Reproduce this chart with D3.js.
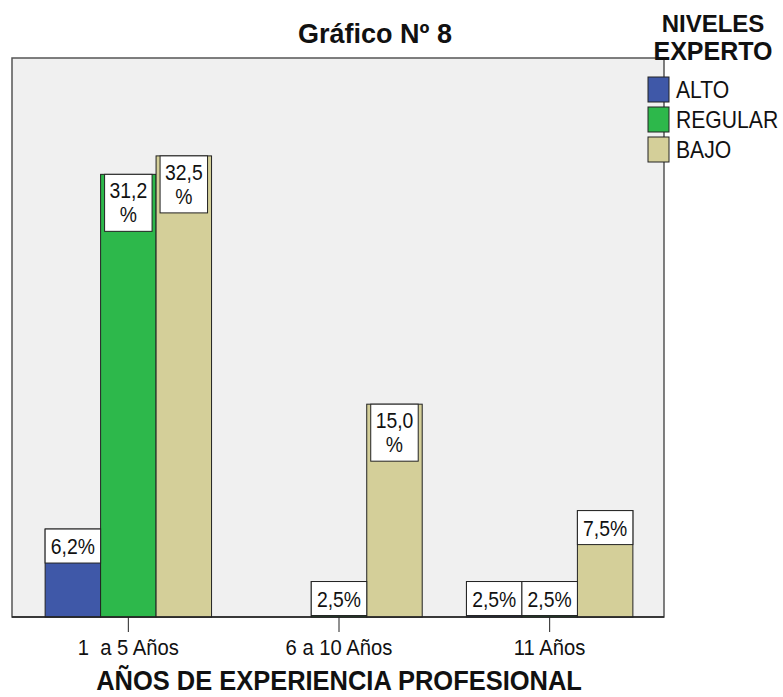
<!DOCTYPE html>
<html>
<head>
<meta charset="utf-8">
<script src="https://cdn.jsdelivr.net/npm/d3@7"></script>
<style>
	body { margin: 0; background: #fff; }
	text { font-family: "Liberation Sans", Arial, sans-serif; fill: #111; }
</style>
</head>
<body>
<svg id="chart" width="783" height="697"></svg>
<script>
// años de experiencia / niveles experto
var categories = ["1  a 5 Años", "6 a 10 Años", "11 Años"];
var levels = ["ALTO", "REGULAR", "BAJO"];
var alto    = [6.2, 0, 2.5];
var regular = [31.2, 2.5, 2.5];
var bajo    = [32.5, 15.0, 7.5];
var levelColors = ["#3f58a8", "#2db84b", "#d4cf99"];

var svg = d3.select("#chart");

var plotLeft = 12, plotRight = 664, plotTop = 58, plotBottom = 617;

var x0 = d3.scaleBand().domain(categories).range([23, 655]);
var x1 = d3.scaleBand().domain(levels)
	.range([0, x0.bandwidth() * 0.79]);
var y = d3.scaleLinear().domain([0, 39.4]).range([plotBottom, plotTop]);

// plot background
svg.append("rect")
	.attr("x", plotLeft).attr("y", plotTop)
	.attr("width", plotRight - plotLeft).attr("height", plotBottom - plotTop)
	.style("fill", "#f0f0f0")
	.style("stroke", "#555").style("stroke-width", 1.5);

var series = [alto, regular, bajo];
var rows = [];
categories.forEach(function(c, i) {
	levels.forEach(function(l, j) {
		rows.push({cat: c, level: l, value: series[j][i], color: levelColors[j]});
	});
});
rows = rows.filter(function(d) { return d.value > 0; });

function barX(d) {
	return x0(d.cat) + (x0.bandwidth() - x1.range()[1]) / 2 + x1(d.level);
}

svg.append("g").selectAll("rect")
	.data(rows)
	.enter().append("rect")
	.attr("x", barX)
	.attr("y", function(d) { return y(d.value); })
	.attr("width", x1.bandwidth())
	.attr("height", function(d) { return plotBottom - y(d.value); })
	.style("fill", function(d) { return d.color; })
	.style("stroke", "#222").style("stroke-width", 1);

// condensed text helper (no narrow font available)
function condText(parent, x, y, str, size, sx, bold) {
	return parent.append("text")
		.attr("transform", "translate(" + x + "," + y + ") scale(" + sx + ",1)")
		.attr("text-anchor", "middle")
		.style("font-size", size + "px")
		.style("font-weight", bold ? "bold" : "normal")
		.text(str);
}

// value labels in white boxes
var fmt = function(v) { return v.toFixed(1).replace(".", ","); };
var labels = svg.append("g").selectAll("g")
	.data(rows)
	.enter().append("g");

labels.each(function(d) {
	var g = d3.select(this);
	var bx = barX(d), bw = x1.bandwidth(), top = y(d.value);
	var twoLines = d.value >= 10;
	var inset = twoLines ? 4 : 0;
	var h = twoLines ? 57 : 34;
	g.append("rect")
		.attr("x", bx + inset).attr("y", top)
		.attr("width", bw - 2 * inset).attr("height", h)
		.style("fill", "#fff").style("stroke", "#222").style("stroke-width", 1);
	var cx = bx + bw / 2;
	if (twoLines) {
		condText(g, cx, top + 24, fmt(d.value), 22, 0.88, false);
		condText(g, cx, top + 48, "%", 22, 0.88, false);
	} else {
		condText(g, cx, top + 25, fmt(d.value) + "%", 22, 0.88, false);
	}
});

// x axis
var xAxis = d3.axisBottom(x0).tickSize(15).tickSizeOuter(0).tickPadding(7);
var axisG = svg.append("g")
	.attr("transform", "translate(0," + plotBottom + ")")
	.call(xAxis);
axisG.select(".domain").remove();
axisG.selectAll(".tick line").style("stroke", "#222");
axisG.selectAll(".tick text")
	.attr("transform", "scale(0.92,1)")
	.style("font-size", "22px").style("fill", "#111")
	.style("font-family", "'Liberation Sans', Arial, sans-serif")
	.style("white-space", "pre");
svg.append("line")
	.attr("x1", plotLeft).attr("x2", plotRight)
	.attr("y1", plotBottom).attr("y2", plotBottom)
	.style("stroke", "#222").style("stroke-width", 1.5);

// titles
condText(svg, 375, 43, "Gráfico Nº 8", 27, 1, true);
condText(svg, 339, 690, "AÑOS DE EXPERIENCIA PROFESIONAL", 28, 0.91, true);

// legend
var legend = svg.append("g");
condText(legend, 713, 32, "NIVELES", 24, 1, true);
condText(legend, 713, 60, "EXPERTO", 25, 1, true);

var li = legend.selectAll("g.item")
	.data(levels)
	.enter().append("g")
	.attr("class", "item")
	.attr("transform", function(d, i) { return "translate(648," + (77 + i * 30) + ")"; });
li.append("rect")
	.attr("width", 21).attr("height", 25)
	.style("fill", function(d, i) { return levelColors[i]; })
	.style("stroke", "#222").style("stroke-width", 1);
li.append("text")
	.attr("transform", "translate(28,21) scale(0.92,1)")
	.style("font-size", "23px")
	.text(function(d) { return d; });
</script>
</body>
</html>
